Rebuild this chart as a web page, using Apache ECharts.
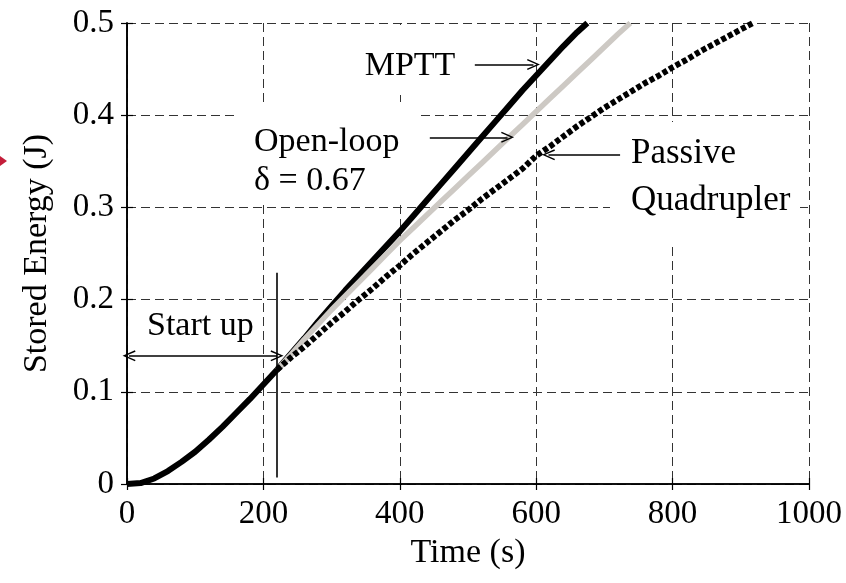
<!DOCTYPE html>
<html>
<head>
<meta charset="utf-8">
<script src="https://cdn.jsdelivr.net/npm/echarts@6/dist/echarts.min.js"></script>
<style>html,body{margin:0;padding:0;background:#fff}#c{width:846px;height:583px}</style>
</head>
<body>
<div id="c"></div>
<script>
// ---- data ----
var xTicks = [0, 200, 400, 600, 800, 1000];
var yTicks = [0, 0.1, 0.2, 0.3, 0.4, 0.5];
// common start-up charge curve (time s, energy J)
var startupT = [0, 20, 40, 60, 80, 100, 120, 140, 160, 180, 200, 220];
var startupE = [0, 0.001, 0.006, 0.014, 0.024, 0.035, 0.048, 0.062, 0.077, 0.092, 0.108, 0.124];
// MPTT
var mpttT = [220, 240, 260, 280, 300, 320, 340, 360, 380, 400, 420, 440, 460, 480, 500, 520, 540, 560, 580, 600, 620, 640, 660, 675];
var mpttE = [0.124, 0.141, 0.158, 0.176, 0.193, 0.210, 0.226, 0.242, 0.258, 0.274, 0.291, 0.308, 0.325, 0.342, 0.359, 0.376, 0.393, 0.410, 0.427, 0.443, 0.459, 0.475, 0.490, 0.500];
// Open-loop, delta = 0.67
var openT = [220, 240, 260, 280, 300, 320, 340, 360, 380, 400, 420, 440, 460, 480, 500, 520, 540, 560, 580, 600, 620, 640, 660, 680, 700, 720, 738];
var openE = [0.124, 0.140, 0.157, 0.173, 0.189, 0.204, 0.219, 0.234, 0.249, 0.264, 0.278, 0.292, 0.306, 0.320, 0.334, 0.348, 0.362, 0.376, 0.390, 0.404, 0.418, 0.432, 0.446, 0.460, 0.474, 0.488, 0.500];
// Passive quadrupler
var passT = [220, 240, 260, 280, 300, 320, 340, 360, 380, 400, 420, 440, 460, 480, 500, 520, 540, 560, 580, 600, 620, 640, 660, 680, 700, 720, 740, 760, 780, 800, 820, 840, 860, 880, 900, 918];
var passE = [0.124, 0.137, 0.149, 0.162, 0.175, 0.187, 0.200, 0.212, 0.225, 0.237, 0.250, 0.262, 0.274, 0.286, 0.297, 0.309, 0.320, 0.331, 0.342, 0.356, 0.366, 0.377, 0.388, 0.398, 0.408, 0.417, 0.426, 0.435, 0.443, 0.452, 0.460, 0.469, 0.477, 0.485, 0.493, 0.500];
// annotation anchors (data space)
var startupEnd = 220;

function pairs(t, e) { return t.map(function (v, i) { return [v, e[i]]; }); }

var FONT = 'Liberation Serif, Times New Roman, serif';
var chevron = 'path://M0,12 L6,0 L12,12 L10.6,12.6 L6,3.2 L1.4,12.6 Z';

var chart = echarts.init(document.getElementById('c'), null, { renderer: 'canvas' });
var axisCommon = {
  type: 'value', min: 0,
  axisLine: { show: true, lineStyle: { color: '#000', width: 1.6 } },
  axisTick: { show: true, inside: true, length: 6, lineStyle: { color: '#000', width: 1.2 } },
  splitLine: { show: false }
};
var option = {
  animation: false,
  backgroundColor: '#fff',
  grid: { left: 127, right: 37, top: 23, bottom: 99 },
  xAxis: [
    Object.assign({}, axisCommon, {
      max: 1000, interval: 200, position: 'bottom',
      name: 'Time (s)', nameLocation: 'middle', nameGap: 49,
      nameTextStyle: { fontFamily: FONT, fontSize: 34, color: '#000' },
      axisLabel: { fontFamily: FONT, fontSize: 33, color: '#000', margin: 14,
        formatter: function (v) { return xTicks.indexOf(v) >= 0 ? String(v) : ''; } },
      splitLine: { show: true, lineStyle: { color: '#333', width: 1, type: [9, 5] } }
    }),
    Object.assign({}, axisCommon, { max: 1000, interval: 200, position: 'top', axisLabel: { show: false } })
  ],
  yAxis: [
    Object.assign({}, axisCommon, {
      max: 0.5, interval: 0.1, position: 'left',
      name: 'Stored Energy (J)', nameLocation: 'middle', nameGap: 73, nameRotate: 90,
      nameTextStyle: { fontFamily: FONT, fontSize: 34, color: '#000' },
      axisLabel: { fontFamily: FONT, fontSize: 33, color: '#000', margin: 13,
        formatter: function (v) { var r = Math.round(v * 10) / 10; return yTicks.indexOf(r) >= 0 ? String(r) : ''; } },
      splitLine: { show: true, lineStyle: { color: '#333', width: 1, type: [9, 5] } }
    }),
    Object.assign({}, axisCommon, { max: 0.5, interval: 0.1, position: 'right', axisLabel: { show: false } })
  ],
  graphic: [
    { type: 'rect', z: 1, shape: { x: 345, y: 25, width: 124, height: 70 }, style: { fill: '#fff' } },
    { type: 'rect', z: 1, shape: { x: 237, y: 107, width: 183, height: 98 }, style: { fill: '#fff' } },
    { type: 'rect', z: 1, shape: { x: 610, y: 122, width: 190, height: 121 }, style: { fill: '#fff' } },
    { type: 'text', z: 5, x: 410, y: 66, style: { text: 'MPTT', font: '34px ' + FONT, fill: '#000', textAlign: 'center', textVerticalAlign: 'middle' } },
    { type: 'text', z: 5, x: 254, y: 142, style: { text: 'Open-loop', font: '34px ' + FONT, fill: '#000', textAlign: 'left', textVerticalAlign: 'middle' } },
    { type: 'text', z: 5, x: 254, y: 181, style: { text: 'δ = 0.67', font: '34px ' + FONT, fill: '#000', textAlign: 'left', textVerticalAlign: 'middle' } },
    { type: 'text', z: 5, x: 631, y: 154, style: { text: 'Passive', font: '35px ' + FONT, fill: '#000', textAlign: 'left', textVerticalAlign: 'middle' } },
    { type: 'text', z: 5, x: 631, y: 201, style: { text: 'Quadrupler', font: '35px ' + FONT, fill: '#000', textAlign: 'left', textVerticalAlign: 'middle' } },
    { type: 'text', z: 5, x: 147, y: 326, style: { text: 'Start up', font: '34px ' + FONT, fill: '#000', textAlign: 'left', textVerticalAlign: 'middle' } },
    { type: 'polygon', z: 5, shape: { points: [[0, 156], [7, 161], [0, 166]] }, style: { fill: '#c41e3a' } }
  ],
  series: [
    {
      name: 'MPTT', type: 'line', z: 3, showSymbol: false, symbol: 'none',
      data: pairs(startupT, startupE).concat(pairs(mpttT, mpttE).slice(1)),
      lineStyle: { color: '#000', width: 6 }, clip: true,
      markLine: {
        silent: true, animation: false, symbolSize: [11, 13],
        label: { show: false },
        lineStyle: { color: '#000', width: 1.6, type: 'solid' },
        emphasis: { disabled: true },
        data: [
          [{ coord: [510, 0.455], symbol: 'none' }, { coord: [596, 0.455], symbol: chevron }],
          [{ coord: [444, 0.376], symbol: 'none' }, { coord: [558, 0.376], symbol: chevron }],
          [{ coord: [723, 0.357], symbol: 'none' }, { coord: [618, 0.357], symbol: chevron }],
          [{ coord: [3, 0.139], symbol: chevron }, { coord: [startupEnd, 0.139], symbol: chevron }],
          [{ coord: [startupEnd, 0.007], symbol: 'none' }, { coord: [startupEnd, 0.229], symbol: 'none' }]
        ]
      }
    },
    {
      name: 'Open-loop', type: 'line', z: 3, showSymbol: false, symbol: 'none',
      data: pairs(openT, openE),
      lineStyle: { color: '#cdc9c4', width: 5.5 }
    },
    {
      name: 'Passive Quadrupler', type: 'line', z: 3, showSymbol: false, symbol: 'none',
      data: pairs(passT, passE),
      lineStyle: { color: '#000', width: 6, type: [5, 2.5] }
    }
  ]
};
chart.setOption(option);
</script>
</body>
</html>
